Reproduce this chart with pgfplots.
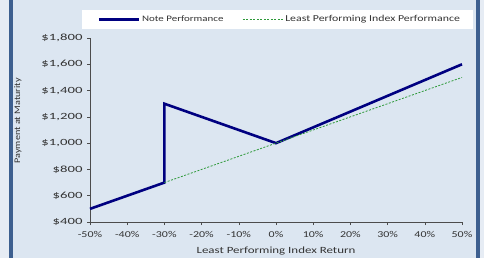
\documentclass[border=0pt]{standalone}
\usepackage{fontspec}
\setmainfont{Carlito}[FakeStretch=1.2]
\newfontfamily\ytf{Carlito}[FakeStretch=1.55]
\newfontfamily\xtf{Carlito}[FakeStretch=1.33]
\newfontfamily\lgf{Carlito}[FakeStretch=1.3]
\newfontfamily\xlf{Carlito}[FakeStretch=1.36]
\usepackage{pgfplots}
\pgfplotsset{compat=1.18}
\definecolor{bgblue}{HTML}{DCE6F1}
\definecolor{edgeblue}{HTML}{E6ECF4}
\definecolor{frameblue}{HTML}{3D5F8F}
\definecolor{navy}{HTML}{000080}
\definecolor{dgreen}{HTML}{2E9A3A}
\definecolor{txt}{HTML}{333333}
\begin{document}
\begin{tikzpicture}[x=1pt,y=1pt]
\useasboundingbox (0,0) rectangle (484,258);
\fill[edgeblue] (0,0) rectangle (484,258);
\fill[bgblue] (13,0) rectangle (476,258);
\fill[frameblue] (8.5,0) rectangle (12.5,258);
\fill[frameblue] (476,0) rectangle (480,258);
\fill[white] (82,229) rectangle (473,248);
\begin{axis}[
  at={(90pt,36pt)}, anchor=south west,
  scale only axis, width=372pt, height=184pt,
  xmin=-50, xmax=50, ymin=400, ymax=1800,
  axis lines=left, axis line style={-, draw=black!70, line width=0.6pt},
  clip=false,
  xtick={-50,-40,...,50},
  xticklabels={-50\%,-40\%,-30\%,-20\%,-10\%,0\%,10\%,20\%,30\%,40\%,50\%},
  ytick={400,600,...,1800},
  yticklabels={{\$400},{\$600},{\$800},{\$1,000},{\$1,200},{\$1,400},{\$1,600},{\$1,800}},
  tick align=outside, major tick length=3pt,
  tick style={draw=black!70, line width=0.5pt},
  ticklabel style={text=txt},
  xticklabel style={font=\xtf\fontsize{9}{10}\selectfont, yshift=-3pt},
  yticklabel style={font=\ytf\fontsize{9.5}{10}\selectfont, xshift=-1pt},
  xlabel={Least Performing Index Return},
  ylabel={Payment at Maturity},
  xlabel style={font=\xlf\fontsize{9.5}{10}\selectfont, text=txt, at={(axis description cs:0.5,-0.155)}, anchor=center},
  ylabel style={font=\fontsize{8.5}{9}\selectfont, text=txt, at={(axis description cs:-0.194,0.55)}, anchor=center},
  legend columns=2,
  legend style={at={(0.51,1.1005)}, anchor=center, draw=none, fill=none,
    font=\lgf\fontsize{9.5}{10}\selectfont, text=txt,
    /tikz/every even column/.append style={column sep=17pt}},
  legend image code/.code={\draw[#1] (0pt,0pt) -- (40pt,0pt);},
]
\addplot[navy, line width=2.6pt, line join=miter] coordinates {(-50,500) (-30,700) (-30,1300) (0,1000) (50,1600)};
\addlegendentry{\fontsize{8.4}{10}\selectfont Note Performance}
\addplot[dgreen, line width=0.8pt, dash pattern=on 2pt off 1.5pt] coordinates {(-30,700) (50,1500)};
\addlegendentry{\fontsize{9.1}{10}\selectfont Least Performing Index Performance}
\end{axis}
\end{tikzpicture}
\end{document}
